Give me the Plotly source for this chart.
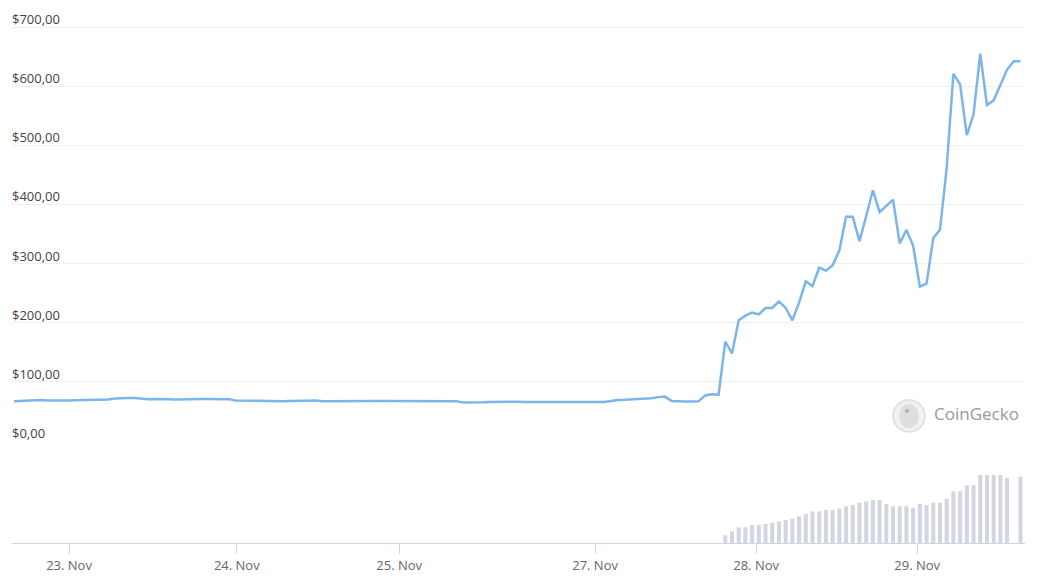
import plotly.graph_objects as go

# ---- data (ordinal hourly points, index 0..150) ----
price = [
    67.3, 67.8, 69.0, 69.5, 69.2, 68.6, 68.3, 68.5, 68.6, 68.8,
    69.0, 69.2, 69.5, 69.8, 70.0, 72.0, 72.9, 72.9, 72.5, 71.5,
    70.7, 71.2, 71.5, 70.8, 70.3, 70.8, 71.2, 71.2, 71.2, 71.2,
    71.2, 71.2, 70.8, 68.6, 68.3, 68.1, 67.8, 67.3, 67.0, 66.4,
    67.0, 67.8, 68.1, 68.5, 69.0, 68.5, 67.3, 67.5, 67.8, 67.8,
    67.8, 67.8, 68.0, 67.8, 67.8, 67.8, 67.8, 67.8, 67.8, 67.8,
    67.8, 67.8, 67.8, 67.8, 67.6, 67.5, 67.3, 64.9, 64.9, 64.4,
    65.6, 66.1, 66.4, 66.4, 66.6, 66.4, 66.1, 66.1, 66.1, 66.1,
    66.1, 66.1, 66.1, 66.1, 66.1, 66.1, 66.1, 66.1, 66.1, 67.8,
    69.5, 69.7, 70.3, 71.7, 72.0, 72.4, 74.2, 75.1, 67.8, 66.6,
    66.6, 66.8, 67.0, 77.0, 79.0, 78.0, 168.0, 148.0, 204.0, 212.0,
    217.0, 214.0, 225.0, 225.0, 236.0, 225.0, 204.0, 234.0, 270.0, 262.0,
    293.0, 288.0, 297.0, 322.0, 379.0, 379.0, 338.0, 380.0, 424.0, 387.0,
    397.0, 408.0, 334.0, 357.0, 330.0, 261.0, 266.0, 343.0, 357.0, 462.0,
    621.0, 603.0, 517.0, 552.0, 655.0, 568.0, 576.0, 603.0, 628.0, 642.0,
    642.0,
]
hours = list(range(len(price)))

volume_start = 106
volume = [
    23, 35, 47, 47, 54, 54, 57, 61, 65, 69,
    73, 80, 87, 95, 95, 99, 99, 103, 110, 114,
    121, 125, 129, 129, 117, 110, 110, 110, 106, 117,
    114, 121, 121, 133, 155, 155, 173, 173, 204, 204,
    204, 204, 195, 0, 199,
]
volume_hours = list(range(volume_start, volume_start + len(volume)))

tick_hours = [8.2, 33.2, 57.4, 86.6, 110.6, 134.6]
tick_labels = ["23. Nov", "24. Nov", "25. Nov", "27. Nov", "28. Nov", "29. Nov"]

price_ticks = [0, 100, 200, 300, 400, 500, 600, 700]
price_tick_labels = ["$0,00", "$100,00", "$200,00", "$300,00", "$400,00",
                     "$500,00", "$600,00", "$700,00"]

FONT = "Open Sans"

# page is offset by the 8px body margin -> design in figure coords
W, H = 1030, 570
L, R, T, B = 4, 13, 2, 35
PW, PH = W - L - R, H - T - B          # 1013 x 533
AXIS_Y = H - B                          # 535
ZERO_Y = 433                            # $0 gridline
TOP700_Y = 19                           # $700 gridline
price_dom0 = (AXIS_Y - ZERO_Y) / PH
price_top = 700 * (ZERO_Y - T) / (ZERO_Y - TOP700_Y)
vol_dom1 = 68 / PH


def px(x):
    return (x - L) / PW


def py(y):
    return (AXIS_Y - y) / PH


fig = go.Figure()
fig.add_trace(go.Bar(
    x=volume_hours, y=volume, yaxis="y2",
    marker=dict(color="#d3d6de", line=dict(width=0)),
    width=0.6, hoverinfo="skip", showlegend=False,
))
fig.add_trace(go.Scatter(
    x=hours, y=price, mode="lines",
    line=dict(color="#7cb5ec", width=2.5),
    showlegend=False,
))

fig.update_layout(
    width=W, height=H,
    margin=dict(l=L, r=R, t=T, b=B, pad=0),
    paper_bgcolor="white", plot_bgcolor="white",
    font=dict(family=FONT, size=12, color="#555"),
    xaxis=dict(
        range=[-0.3, 150.67],
        tickmode="array", tickvals=tick_hours, ticktext=tick_labels,
        showgrid=False, zeroline=False,
        showline=True, linecolor="#ccd6eb", linewidth=1,
        ticks="outside", ticklen=10, tickcolor="#ccd6eb", tickwidth=1,
        tickfont=dict(family=FONT, size=13, color="#666"),
        anchor="y2", automargin=False,
    ),
    yaxis=dict(
        domain=[price_dom0, 1.0], range=[0, price_top],
        tickmode="array", tickvals=price_ticks,
        showticklabels=False,
        showgrid=True, gridcolor="#f0f0f0", gridwidth=1,
        zeroline=False, showline=False, ticks="", automargin=False,
    ),
    yaxis2=dict(
        domain=[0, vol_dom1], range=[0, 204],
        showgrid=False, zeroline=False, showline=False,
        showticklabels=False, ticks="",
    ),
    bargap=0.4,
)

# price axis labels, drawn above their gridlines like the reference
for v, lab in zip(price_ticks, price_tick_labels):
    fig.add_annotation(text=lab, xref="paper", yref="y", x=0, y=v,
                       xanchor="left", yanchor="middle", xshift=-2, yshift=8,
                       showarrow=False,
                       font=dict(family=FONT, size=13, color="#444"))

# CoinGecko watermark (reference coords minus 8px page offset)
fig.add_shape(type="circle", xref="paper", yref="paper",
              x0=px(885), x1=px(917), y0=py(424), y1=py(392),
              line=dict(color="#dcdcdc", width=1.5), fillcolor="#f1f1f1",
              layer="above")
fig.add_shape(type="circle", xref="paper", yref="paper",
              x0=px(891), x1=px(911), y0=py(420), y1=py(396),
              line=dict(width=0), fillcolor="#dedede", layer="above")
fig.add_shape(type="circle", xref="paper", yref="paper",
              x0=px(897), x1=px(901), y0=py(405), y1=py(401),
              line=dict(width=0), fillcolor="#b0b0b0", layer="above")
fig.add_annotation(text="CoinGecko", xref="paper", yref="paper",
                   x=px(924), y=py(405),
                   xanchor="left", yanchor="middle", showarrow=False,
                   font=dict(family=FONT, size=17, color="#9a9a9a"))

fig.write_html("out.html")
